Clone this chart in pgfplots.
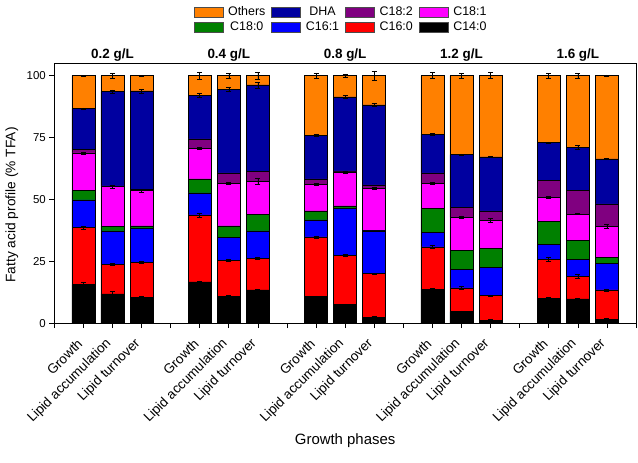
\documentclass[border=0pt]{standalone}
\usepackage{fontspec}
\setmainfont{Liberation Sans}
\usepackage{pgfplots}
\pgfplotsset{compat=1.18}
\usepackage{pgfplotstable}
\usetikzlibrary{calc}

\definecolor{cOth}{RGB}{255,128,0}
\definecolor{cDHA}{RGB}{0,0,160}
\definecolor{cC182}{RGB}{128,0,128}
\definecolor{cC181}{RGB}{255,0,255}
\definecolor{cC180}{RGB}{0,128,0}
\definecolor{cC161}{RGB}{0,0,255}
\definecolor{cC160}{RGB}{255,0,0}
\definecolor{cC140}{RGB}{0,0,0}

\pgfplotstableread{
x  c140 e140 c160 e160 c161 c180 c181 e181 c182 dha  edha oth  eoth
0  15.6 0.8  23.1 0.6  11.1 3.7  15.3 0.4  1.4  16.5 0.3  13.3 0.2
1  11.8 1.0  11.9 0.5  13.6 1.9  16.0 0.5  0.3  38.0 0.8  6.5  0.9
2  10.4 0.3  14.2 0.3  13.7 1.0  14.2 0.6  0.5  39.8 0.8  6.2  0.2
4  16.7 0.4  27.0 0.8  8.9  5.7  12.3 0.4  3.9  17.6 0.9  7.9  1.5
5  10.8 0.3  14.6 0.4  9.2  4.7  17.3 0.4  4.1  33.9 0.8  5.4  1.0
6  13.4 0.3  12.9 0.3  11.0 6.8  13.1 1.2  4.1  35.0 1.2  3.7  1.5
8  10.7 0.3  24.2 0.4  6.8  3.7  10.8 0.4  2.1  17.6 0.4  24.1 1.0
9  7.5  0.3  19.9 0.3  18.9 1.1  13.7 0.4  0.4  29.9 0.7  8.6  0.7
10 2.3  0.3  17.7 0.3  17.3 0.2  17.1 0.5  1.3  32.3 0.7  11.8 1.8
12 13.6 0.3  17.2 0.5  5.8  9.7  10.3 0.4  4.1  15.6 0.3  23.7 1.2
13 4.7  0.3  9.6  0.5  7.4  7.7  13.4 0.5  3.9  21.4 0.3  31.9 1.0
14 1.2  0.3  9.9  0.3  11.3 7.7  11.3 0.8  4.0  21.8 0.3  32.8 1.2
16 10.0 0.3  15.7 0.8  6.2  9.1  9.9  0.4  6.8  15.2 0.3  27.1 1.0
17 9.8  0.3  9.1  0.8  6.8  7.8  10.6 0.3  9.5  17.5 0.8  28.9 1.0
18 1.6  0.3  11.8 0.4  10.9 2.4  12.5 0.7  9.0  18.2 0.3  33.6 0.3
}\data

\begin{document}
\begin{tikzpicture}
\begin{axis}[
  width=582bp, height=260bp, scale only axis,
  ybar stacked, bar width=0.79,
  xmin=-1, xmax=19, ymin=0, ymax=105,
  clip=false,
  xtick={-1,0,...,19},
  xticklabels={{},Growth,Lipid accumulation,Lipid turnover,{},Growth,Lipid accumulation,Lipid turnover,{},Growth,Lipid accumulation,Lipid turnover,{},Growth,Lipid accumulation,Lipid turnover,{},Growth,Lipid accumulation,Lipid turnover,{}},
  ytick={0,25,50,75,100},
  tick align=outside, major tick length=5bp,
  xtick pos=bottom, ytick pos=left,
  axis line style={line width=0.6bp},
  tick style={line width=0.6bp, black},
  /pgf/number format/assume math mode=true,
  yticklabel style={font=\fontsize{11.5}{13}\selectfont},
  xticklabel style={font=\fontsize{13.5}{15}\selectfont, yshift=-11bp, xshift=-1bp, rotate=45, anchor=east},
  ylabel={Fatty acid profile (\% TFA)},
  ylabel style={font=\fontsize{13.8}{16}\selectfont, at={(axis description cs:-0.073,0.455)}, anchor=center, rotate=0},
  xlabel={Growth phases},
  xlabel style={font=\fontsize{15}{17}\selectfont, at={(axis description cs:0.5,-0.454)}, anchor=center},
  reverse legend,
  legend columns=4,
  legend style={at={(axis description cs:0.493,1.226)}, anchor=north, draw=none, fill=none,
    font=\fontsize{12.5}{14}\selectfont, inner sep=0pt, row sep=1bp,
    /tikz/every odd column/.append style={column sep=3bp},
    /tikz/every even column/.append style={column sep=4bp}},
  legend image code/.code={\draw[#1, draw=black!70, line width=0.5bp] (0bp,-5bp) rectangle (29bp,5bp);},
  error bars/error bar style={black, line width=0.5bp},
  error bars/error mark options={rotate=90, black, mark size=2.5bp, line width=0.5bp},
]
\addplot[fill=cC140, draw=black, line width=0.5bp, error bars/.cd, y dir=both, y explicit] table[x=x, y=c140, y error=e140] {\data};
\addlegendentry{C14:0}
\addplot[fill=cC160, draw=black, line width=0.5bp, error bars/.cd, y dir=both, y explicit] table[x=x, y=c160, y error=e160] {\data};
\addlegendentry{C16:0}
\addplot[fill=cC161, draw=black, line width=0.5bp] table[x=x, y=c161] {\data};
\addlegendentry{C16:1}
\addplot[fill=cC180, draw=black, line width=0.5bp] table[x=x, y=c180] {\data};
\addlegendentry{C18:0}
\addplot[fill=cC181, draw=black, line width=0.5bp, error bars/.cd, y dir=both, y explicit] table[x=x, y=c181, y error=e181] {\data};
\addlegendentry{C18:1}
\addplot[fill=cC182, draw=black, line width=0.5bp] table[x=x, y=c182] {\data};
\addlegendentry{C18:2}
\addplot[fill=cDHA, draw=black, line width=0.5bp, error bars/.cd, y dir=both, y explicit] table[x=x, y=dha, y error=edha] {\data};
\addlegendentry{DHA}
\addplot[fill=cOth, draw=black, line width=0.5bp, error bars/.cd, y dir=both, y explicit] table[x=x, y=oth, y error=eoth] {\data};
\addlegendentry{Others}

\node[font=\bfseries\fontsize{13.5}{15}\selectfont, anchor=base, yshift=5bp] at (axis cs:1,105) {0.2 g/L};
\node[font=\bfseries\fontsize{13.5}{15}\selectfont, anchor=base, yshift=5bp] at (axis cs:5,105) {0.4 g/L};
\node[font=\bfseries\fontsize{13.5}{15}\selectfont, anchor=base, yshift=5bp] at (axis cs:9,105) {0.8 g/L};
\node[font=\bfseries\fontsize{13.5}{15}\selectfont, anchor=base, yshift=5bp] at (axis cs:13,105) {1.2 g/L};
\node[font=\bfseries\fontsize{13.5}{15}\selectfont, anchor=base, yshift=5bp] at (axis cs:17,105) {1.6 g/L};
\end{axis}
\pgfresetboundingbox
\path[use as bounding box] ($(current axis.south west)+(-54.3bp,-139.7bp)$) rectangle ($(current axis.north east)+(2bp,63.3bp)$);
\end{tikzpicture}
\end{document}
